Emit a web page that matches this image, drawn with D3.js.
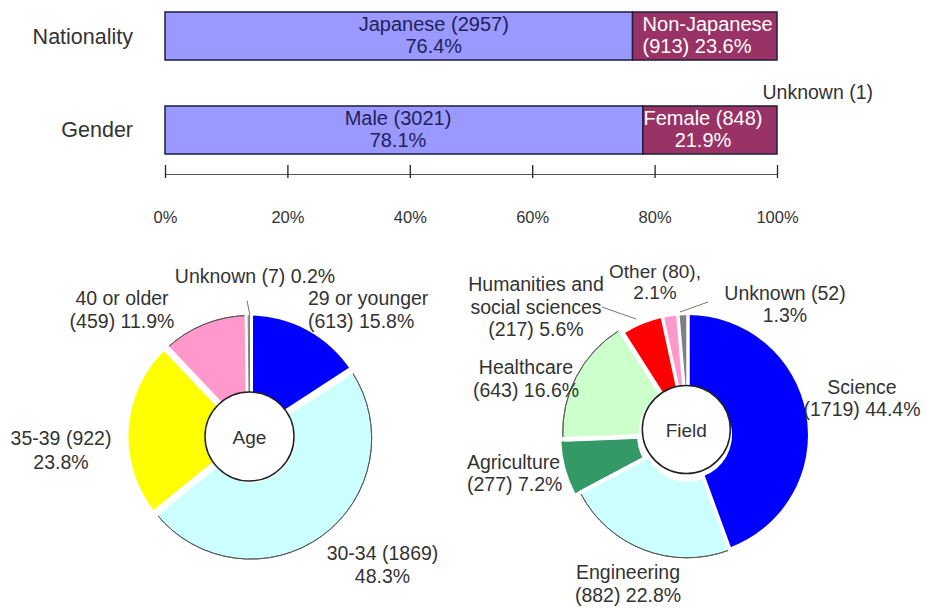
<!DOCTYPE html>
<html>
<head>
<meta charset="utf-8">
<script src="https://cdn.jsdelivr.net/npm/d3@7"></script>
<style>
  html, body { margin: 0; padding: 0; background: #fff; }
  svg { display: block; font-family: "Liberation Sans", Arial, sans-serif; }
</style>
</head>
<body>
<svg id="chart" width="927" height="608"></svg>
<script>
// ---------------- DATA ----------------
const barRows = ["Nationality", "Gender"];

const natCats = ["Japanese", "Non-Japanese"];
const natCounts = [2957, 913];
const natPct = [76.4, 23.6];

const genderCats = ["Male", "Female"];
const genderCounts = [3021, 848];
const genderPct = [78.1, 21.9];
const genderUnknownCount = 1;

const xTicks = [0, 20, 40, 60, 80, 100];

const ageCats = ["29 or younger", "30-34", "35-39", "40 or older", "Unknown"];
const ageCounts = [613, 1869, 922, 459, 7];
const agePct = [15.8, 48.3, 23.8, 11.9, 0.2];

const fieldCats = ["Science", "Engineering", "Agriculture", "Healthcare",
                   "Humanities and social sciences", "Other", "Unknown"];
const fieldCounts = [1719, 882, 277, 643, 217, 80, 52];
const fieldPct = [44.4, 22.8, 7.2, 16.6, 5.6, 2.1, 1.3];

// ---------------- STYLE / LAYOUT ----------------
const FONT_BIG = 21.5;
const FONT_LBL = 19.5;
const TXT = "#333";

const svg = d3.select("#chart");

// ---------- top stacked bars ----------
const x = d3.scaleLinear().domain([0, 100]).range([165, 777]);
const y = d3.scaleBand().domain(barRows).range([12, 154]).paddingInner(0.489).paddingOuter(0);

const barColors = ["#9999ff", "#993366"];
const barTextColors = ["#22225a", "#ffffff"];

function stackRow(cats, counts, pcts) {
  let cum = 0;
  return cats.map((c, i) => {
    const d = { cat: c, count: counts[i], pct: pcts[i], x0: cum, x1: cum + pcts[i], i };
    cum += pcts[i];
    return d;
  });
}
const rows = [
  { row: "Nationality", segs: stackRow(natCats, natCounts, natPct) },
  { row: "Gender", segs: stackRow(genderCats, genderCounts, genderPct) }
];

const barLabelLayout = {
  "Japanese":     { anchor: "middle", dx: 35, lines: d => [`${d.cat} (${d.count})`, `${d.pct}%`] },
  "Non-Japanese": { anchor: "start", dx: 10, lines: d => [d.cat, `(${d.count}) ${d.pct}%`] },
  "Male":         { anchor: "middle", dx: -6, lines: d => [`${d.cat} (${d.count})`, `${d.pct}%`] },
  "Female":       { anchor: "middle", dx: -7, lines: d => [`${d.cat} (${d.count})`, `${d.pct}%`] }
};

rows.forEach(r => {
  const g = svg.append("g");
  g.append("text")
    .attr("x", 133).attr("y", y(r.row) + y.bandwidth() / 2 + 7.5)
    .attr("text-anchor", "end").attr("font-size", FONT_BIG).attr("fill", TXT)
    .text(r.row);

  g.selectAll("rect").data(r.segs).join("rect")
    .attr("x", d => x(d.x0)).attr("width", d => x(d.x1) - x(d.x0))
    .attr("y", y(r.row)).attr("height", y.bandwidth())
    .attr("fill", d => barColors[d.i])
    .attr("stroke", "#1e1e3c").attr("stroke-width", 1.5);

  r.segs.forEach(d => {
    const L = barLabelLayout[d.cat];
    const lx = L.anchor === "start" ? x(d.x0) + L.dx : (x(d.x0) + x(d.x1)) / 2 + L.dx;
    const t = g.append("text")
      .attr("text-anchor", L.anchor).attr("font-size", 20)
      .attr("fill", barTextColors[d.i]);
    L.lines(d).forEach((ln, k) => {
      t.append("tspan").attr("x", lx).attr("y", y(r.row) + 19 + k * 22).text(ln);
    });
  });
});

svg.append("text")
  .attr("x", 873).attr("y", 99).attr("text-anchor", "end")
  .attr("font-size", FONT_LBL).attr("fill", TXT)
  .text(`Unknown (${genderUnknownCount})`);

// axis
const axisY = 174;
const axis = d3.axisBottom(x).tickValues(xTicks).tickFormat(d => d + "%").tickSize(0).tickPadding(0);
const ag = svg.append("g").attr("transform", `translate(0,${axisY})`).call(axis);
ag.select(".domain").attr("stroke", "#555").attr("stroke-width", 1.2);
ag.selectAll(".tick line").attr("y1", -9).attr("y2", 4).attr("stroke", "#222").attr("stroke-width", 1.3);
ag.selectAll(".tick text").attr("y", 49).attr("dy", 0).attr("font-size", 16.5)
  .attr("fill", TXT).attr("font-family", "'Liberation Sans', Arial, sans-serif");

// ---------- donut pies ----------
function drawDonut(cfg) {
  const data = cfg.cats.map((c, i) => ({ cat: c, count: cfg.counts[i], pct: cfg.pcts[i], i }));
  const pie = d3.pie().sort(null).value(d => d.count);
  const arcs = pie(data);
  const g = svg.append("g").attr("transform", `translate(${cfg.cx},${cfg.cy})`);
  const arcGen = d3.arc().innerRadius(cfg.r0).outerRadius(cfg.R);
  const rimGen = d3.arc().innerRadius(cfg.R).outerRadius(cfg.R);

  const isTiny = d => d.data.pct < 0.5;
  const shift = d => {
    const e = (cfg.explode && cfg.explode[d.data.cat]) || 0;
    const a = (d.startAngle + d.endAngle) / 2;
    return `translate(${Math.sin(a) * e},${-Math.cos(a) * e})`;
  };

  const sg = g.selectAll("g.slice").data(arcs.filter(d => !isTiny(d))).join("g")
    .attr("class", "slice").attr("transform", shift);
  sg.append("path").attr("d", arcGen).attr("fill", d => cfg.colors[d.data.i]);
  sg.filter(d => cfg.outlined.includes(d.data.cat)).append("path")
    .attr("d", rimGen).attr("fill", "none").attr("stroke", "#555").attr("stroke-width", 0.9);

  // white separators between slices
  g.selectAll("line.sep").data(arcs).join("line")
    .attr("class", "sep")
    .attr("x1", d => Math.sin(d.startAngle) * (cfg.r0 - 2))
    .attr("y1", d => -Math.cos(d.startAngle) * (cfg.r0 - 2))
    .attr("x2", d => Math.sin(d.startAngle) * (cfg.R + 3))
    .attr("y2", d => -Math.cos(d.startAngle) * (cfg.R + 3))
    .attr("stroke", "#fff").attr("stroke-width", cfg.sep);

  // tiny slices on top
  g.selectAll("path.tiny").data(arcs.filter(isTiny)).join("path")
    .attr("class", "tiny").attr("d", arcGen)
    .attr("fill", d => cfg.colors[d.data.i]).attr("stroke", "#777").attr("stroke-width", 0.9);

  // hole
  const hx = cfg.holeDx || 0, hy = cfg.holeDy || 0;
  g.append("circle").attr("cx", hx).attr("cy", hy).attr("r", cfg.r0)
    .attr("fill", "#fff").attr("stroke", "#222").attr("stroke-width", 1.5);
  g.append("text").attr("text-anchor", "middle").attr("x", hx).attr("y", hy + 7).attr("font-size", 19)
    .attr("fill", TXT).text(cfg.title);

  // leader lines
  (cfg.leaders || []).forEach(l => {
    g.append("line").attr("x1", l[0]).attr("y1", l[1]).attr("x2", l[2]).attr("y2", l[3])
      .attr("stroke", "#777").attr("stroke-width", 1);
  });

  // labels
  arcs.forEach(d => {
    const L = cfg.labels[d.data.cat];
    const t = g.append("text").attr("text-anchor", L.anchor).attr("font-size", L.fs || FONT_LBL).attr("fill", TXT);
    L.lines(d.data).forEach((ln, k) => {
      t.append("tspan").attr("x", L.x).attr("y", L.y + k * (L.lh || 22.5)).text(ln);
    });
  });
}

const two = d => [`${d.cat} (${d.count})`, `${d.pct}%`];
const twoB = d => [d.cat, `(${d.count}) ${d.pct}%`];

drawDonut({
  cats: ageCats, counts: ageCounts, pcts: agePct, title: "Age",
  cx: 249.5, cy: 436.5, R: 121, r0: 44.5, sep: 7,
  colors: ["#0000ff", "#ccffff", "#ffff00", "#ff99cc", "#aaaaaa"],
  outlined: ["30-34", "40 or older"],
  explode: { "30-34": 2 },
  leaders: [[-2.5, -136, 0.5, -121]],
  labels: {
    "29 or younger": { anchor: "start", x: 58.5, y: -131.5, lines: twoB },
    "30-34": { anchor: "middle", x: 133, y: 123.5, lines: two },
    "35-39": { anchor: "middle", x: -188.5, y: 8.5, lh: 23.5, lines: two },
    "40 or older": { anchor: "middle", x: -127.5, y: -131.5, lines: twoB },
    "Unknown": { anchor: "middle", x: 5.5, y: -153.5, lines: d => [`${d.cat} (${d.count}) ${d.pct}%`] }
  }
});

drawDonut({
  cats: fieldCats, counts: fieldCounts, pcts: fieldPct, title: "Field",
  cx: 688, cy: 435, R: 120, r0: 44, sep: 3.5, holeDx: -1.7, holeDy: -5.5,
  colors: ["#0000ff", "#ccffff", "#339966", "#ccffcc", "#ff0000", "#ff99cc", "#808080"],
  outlined: ["Engineering", "Healthcare"],
  explode: { "Engineering": 3, "Agriculture": 7, "Healthcare": 6 },
  leaders: [[-86, -128, -52, -116], [20, -133, -8, -123]],
  labels: {
    "Science": { anchor: "middle", x: 174, y: -41, lh: 21.5, lines: twoB },
    "Engineering": { anchor: "middle", x: -60, y: 144, lh: 23, lines: twoB },
    "Agriculture": { anchor: "start", x: -221, y: 34, lh: 22, lines: twoB },
    "Healthcare": { anchor: "middle", x: -162, y: -61, lh: 23, lines: twoB },
    "Humanities and social sciences": { anchor: "middle", x: -152, y: -144, lh: 22.5,
      lines: d => ["Humanities and", "social sciences", `(${d.count}) ${d.pct}%`] },
    "Other": { anchor: "middle", x: -33, y: -157, lh: 21, fs: 19, lines: d => [`${d.cat} (${d.count}),`, `${d.pct}%`] },
    "Unknown": { anchor: "middle", x: 97, y: -135, lh: 21.5, lines: two }
  }
});
</script>
</body>
</html>
